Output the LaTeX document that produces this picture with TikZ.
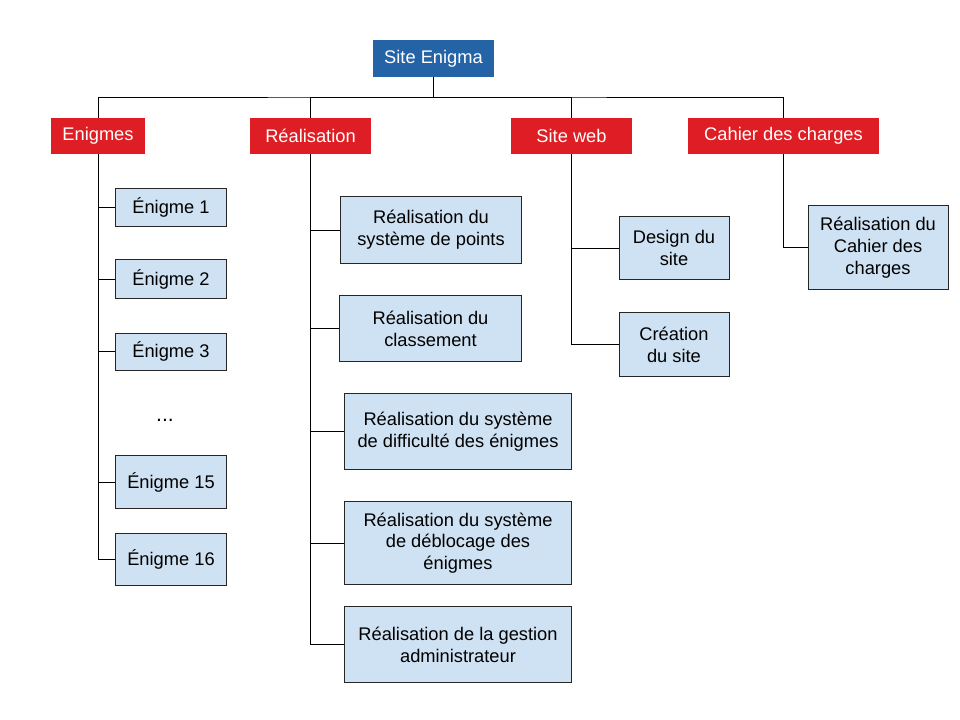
\documentclass[tikz,border=0pt]{standalone}
\usepackage{fontspec}
\setmainfont{Liberation Sans}
\usepackage{tikz}

\definecolor{rootblue}{RGB}{36,100,166}
\definecolor{catred}{RGB}{222,30,36}
\definecolor{taskblue}{RGB}{207,226,243}

\tikzset{
  rootbox/.style={fill=rootblue,text=white,minimum width=3.025cm,minimum height=0.925cm},
  catbox/.style={fill=catred,text=white,minimum height=0.9cm},
  taskbox/.style={draw=black!85,line width=0.7pt,fill=taskblue,align=center,inner sep=1pt},
  link/.style={line width=0.7pt}
}

\begin{document}
\begin{tikzpicture}[x=0.025cm,y=-0.025cm,font=\fontsize{13}{15.5}\selectfont]
    \useasboundingbox (0,0) rectangle (960,720);
    % Root
    \node[rootbox] (root) at (433.5,58.5) {Site Enigma};
    % Categories
    \node[catbox,minimum width=2.35cm] (enig) at (98,136) {Enigmes};
    \node[catbox,minimum width=3.025cm] (real) at (310.5,136) {Réalisation};
    \node[catbox,minimum width=3.025cm] (web) at (571.5,136) {Site web};
    \node[catbox,minimum width=4.775cm] (cdc) at (783.5,136) {Cahier des charges};
    % Enigmes
    \node[taskbox,minimum width=2.75cm,minimum height=0.925cm] (e1) at (171,207.5) {Énigme 1};
    \node[taskbox,minimum width=2.75cm,minimum height=0.95cm] (e2) at (171,279) {Énigme 2};
    \node[taskbox,minimum width=2.75cm,minimum height=0.925cm] (e3) at (171,351.5) {Énigme 3};
    \node[font=\fontsize{15}{18}\selectfont] (dots) at (165,420) {...};
    \node[taskbox,minimum width=2.75cm,minimum height=1.3cm] (e15) at (171,482) {Énigme 15};
    \node[taskbox,minimum width=2.75cm,minimum height=1.3cm] (e16) at (171,559) {Énigme 16};
    % Realisation
    \node[taskbox,minimum width=4.5cm,minimum height=1.65cm] (r1) at (431,230) {Réalisation du\\système de points};
    \node[taskbox,minimum width=4.525cm,minimum height=1.625cm] (r2) at (430.5,328.5) {Réalisation du\\classement};
    \node[taskbox,minimum width=5.65cm,minimum height=1.875cm] (r3) at (458,431.5) {Réalisation du système\\de difficulté des énigmes};
    \node[taskbox,minimum width=5.65cm,minimum height=2.05cm] (r4) at (458,543) {Réalisation du système\\de déblocage des\\énigmes};
    \node[taskbox,minimum width=5.65cm,minimum height=1.875cm] (r5) at (458,644.5) {Réalisation de la gestion\\administrateur};
    % Site web
    \node[taskbox,minimum width=2.75cm,minimum height=1.55cm] (w1) at (674,248) {Design du\\site};
    \node[taskbox,minimum width=2.75cm,minimum height=1.575cm] (w2) at (674,344.5) {Création\\du site};
    % Cahier des charges
    \node[taskbox,minimum width=3.5cm,minimum height=2.075cm] (c1) at (878,247.5) {Réalisation du\\Cahier des\\charges};
    % Bus
    \coordinate (bus) at (433.5,97);
    \draw[link] (root.south) -- (bus);
    \draw[link] (enig.north) |- (bus) -| (cdc.north);
    \draw[link] (real.north) |- (bus);
    \draw[link] (web.north) |- (bus);
    % Branches
    \foreach \n in {e1,e2,e3,e15,e16} {
      \draw[link] (enig.south) |- (\n.west);
    }
    \foreach \n in {r1,r2,r3,r4,r5} {
      \draw[link] (real.south) |- (\n.west);
    }
    \foreach \n in {w1,w2} {
      \draw[link] (web.south) |- (\n.west);
    }
    \draw[link] (cdc.south) |- (c1.west);
  \end{tikzpicture}
\end{document}
